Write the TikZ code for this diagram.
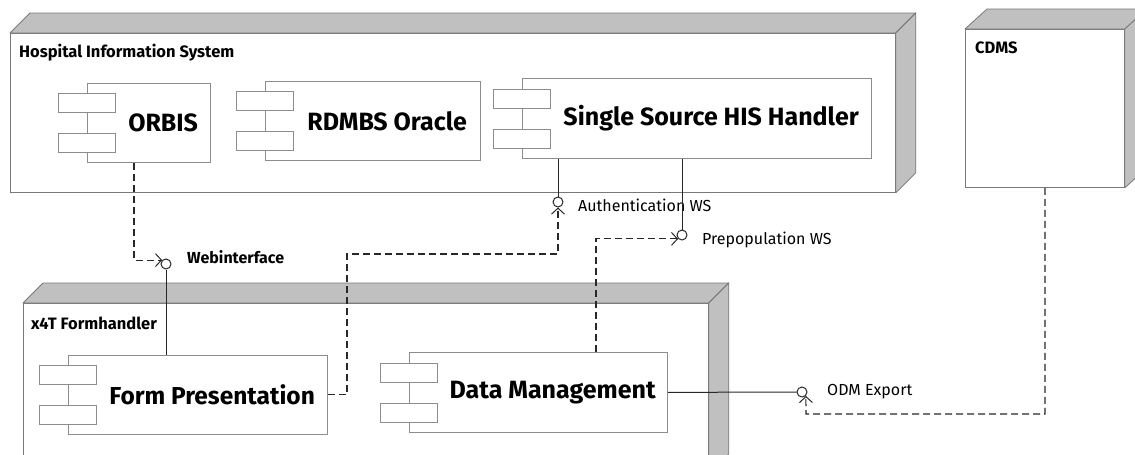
\documentclass[tikz,border=0pt]{standalone}
\usepackage{fontspec}
\setmainfont{Fira Sans}
\usetikzlibrary{calc,arrows.meta}
\definecolor{depthgray}{RGB}{192,192,192}
\definecolor{edgegray}{RGB}{120,120,120}
\definecolor{compgray}{RGB}{140,140,140}
\definecolor{linedark}{RGB}{40,40,40}
\begin{document}
\begin{tikzpicture}[x=1pt,y=-1pt,
  nodefront/.style={draw=edgegray,line width=0.8pt,fill=white,anchor=north west,inner sep=0pt},
  depthface/.style={draw=edgegray,line width=0.8pt,fill=depthgray,line join=round},
  comp/.style={draw=compgray,line width=0.8pt,fill=white,anchor=north west,inner sep=0pt},
  tab/.style={draw=compgray,line width=0.8pt,fill=white,minimum width=57pt,minimum height=19pt,inner sep=0pt},
  comptext/.style={font=\bfseries\fontsize{25}{27}\selectfont,inner sep=0pt},
  nodetitle/.style={font=\bfseries\fontsize{16.5}{18}\selectfont,anchor=west,inner sep=0pt},
  ball/.style={circle,draw=linedark,line width=1pt,fill=white,minimum size=10pt,inner sep=0pt},
  ifacelabel/.style={font=\fontsize{16}{18}\selectfont,anchor=west,inner sep=0pt},
  solidline/.style={draw=linedark,line width=1pt},
  dep/.style={draw=linedark,line width=1.1pt,dash pattern=on 7pt off 4pt,-{Straight Barb[length=6pt,width=13pt,line width=1pt]}}
]
\useasboundingbox (0,0) rectangle (1135,455);
% ---------- Hospital Information System node ----------
\node[nodefront,minimum width=885pt,minimum height=159pt] (his) at (10,33) {};
\path[depthface] (his.north west) -- ++(20,-20) -- ($(his.north east)+(20,-20)$) -- (his.north east) -- cycle;
\path[depthface] (his.north east) -- ++(20,-20) -- ($(his.south east)+(20,-20)$) -- (his.south east) -- cycle;
\node[nodetitle] (histitle) at (19,53) {Hospital Information System};
% ---------- CDMS node ----------
\node[nodefront,minimum width=159pt,minimum height=158pt] (cdms) at (965,29) {};
\path[depthface] (cdms.north west) -- ++(22,-20) -- ($(cdms.north east)+(22,-20)$) -- (cdms.north east) -- cycle;
\path[depthface] (cdms.north east) -- ++(22,-20) -- ($(cdms.south east)+(22,-20)$) -- (cdms.south east) -- cycle;
\node[nodetitle] (cdmstitle) at (975,48) {CDMS};
% ---------- x4T Formhandler node ----------
\node[nodefront,minimum width=685pt,minimum height=170pt] (fh) at (23,303) {};
\path[depthface] (fh.north west) -- ++(20,-20) -- ($(fh.north east)+(20,-20)$) -- (fh.north east) -- cycle;
\path[depthface] (fh.north east) -- ++(20,-20) -- ($(fh.south east)+(20,-20)$) -- (fh.south east) -- cycle;
\node[nodetitle] (fhtitle) at (31,323) {x4T Formhandler};
% ---------- components ----------
\node[comp,minimum width=123pt,minimum height=79pt] (orbis) at (87,83) {};
\node[tab] (orbisa) at ($(orbis.west)+(0,-20)$) {};
\node[tab] (orbisb) at ($(orbis.west)+(0,20)$) {};
\node[comptext] (orbist) at ($(orbis.center)+(14.25,0)$) {ORBIS};

\node[comp,minimum width=215pt,minimum height=79pt] (rdbms) at (265,81) {};
\node[tab] (rdbmsa) at ($(rdbms.west)+(0,-20)$) {};
\node[tab] (rdbmsb) at ($(rdbms.west)+(0,20)$) {};
\node[comptext] (rdbmst) at ($(rdbms.center)+(14.25,0)$) {RDMBS Oracle};

\node[comp,minimum width=349pt,minimum height=80pt] (ssh) at (522,78) {};
\node[tab] (ssha) at ($(ssh.west)+(0,-20)$) {};
\node[tab] (sshb) at ($(ssh.west)+(0,20)$) {};
\node[comptext] (ssht) at ($(ssh.center)+(14.25,0)$) {Single Source HIS Handler};

\node[comp,minimum width=259pt,minimum height=79pt] (fp) at (68,355) {};
\node[tab] (fpa) at ($(fp.west)+(0,-20)$) {};
\node[tab] (fpb) at ($(fp.west)+(0,20)$) {};
\node[comptext,font=\bfseries\fontsize{24.5}{27}\selectfont] (fpt) at ($(fp.center)+(14.25,0)$) {Form Presentation};

\node[comp,minimum width=258pt,minimum height=80pt] (dm) at (409,352) {};
\node[tab] (dma) at ($(dm.west)+(0,-20)$) {};
\node[tab] (dmb) at ($(dm.west)+(0,20)$) {};
\node[comptext] (dmt) at ($(dm.center)+(14.25,0)$) {Data Management};
% ---------- interfaces ----------
\node[ball] (wi) at (166,264) {};
\node[ifacelabel,font=\bfseries\fontsize{16}{18}\selectfont] (wil) at (187,257) {Webinterface};
\node[ball] (aw) at (558,202) {};
\node[ifacelabel] (awl) at (578,205) {Authentication WS};
\node[ball] (pw) at (682,235) {};
\node[ifacelabel] (pwl) at (702,240) {Prepopulation WS};
\node[ball] (ow) at (802,392) {};
\node[ifacelabel] (owl) at (827,392) {ODM Export};
% ---------- provided (solid) ----------
\draw[solidline] (fp.north -| wi) -- (wi.south);
\draw[solidline] (ssh.south -| aw) -- (aw.north);
\draw[solidline] (ssh.south -| pw) -- (pw.north);
\draw[solidline] (dm.east) -- (ow.west);
% ---------- required (dashed dependencies) ----------
\coordinate (orbisout) at (orbis.south -| 134,0);
\draw[dep] (orbisout) |- (wi.north west);
\coordinate (fpbend) at (347,254);
\draw[dep] (fp.east) -| (fpbend) -| (aw.south);
\coordinate (dmout) at (dm.north -| 596,0);
\draw[dep] (dmout) |- (pw.south west);
\coordinate (cdmsout) at (cdms.south -| 1045,0);
\coordinate (odmbend) at (806,414);
\draw[dep] (cdmsout) |- (odmbend) -- (ow.south east);
\end{tikzpicture}
\end{document}
